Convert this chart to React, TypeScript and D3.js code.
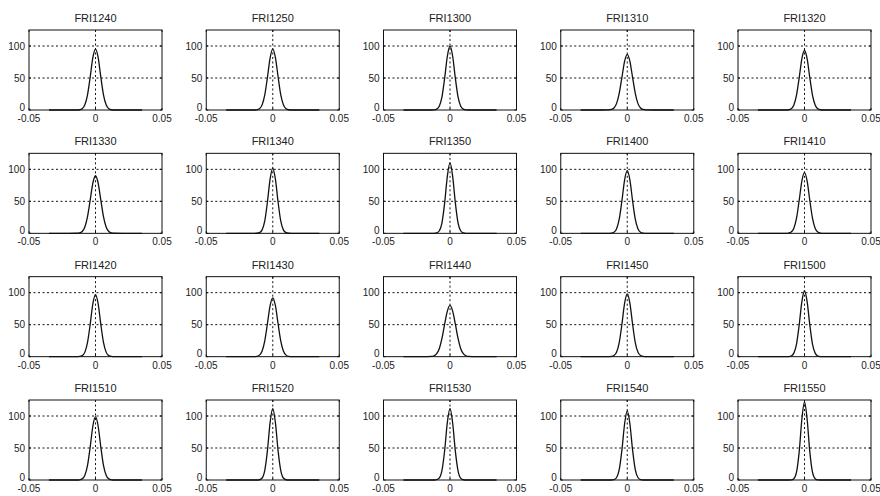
import { line, curveMonotoneX, scaleLinear } from "d3";

const W = 880;
const H = 496;

// x grid shared by every panel
const xs = [-0.035, -0.02, -0.014, -0.012, -0.01, -0.008, -0.006, -0.004, -0.002, 0, 0.002, 0.004, 0.006, 0.008, 0.01, 0.012, 0.014, 0.02, 0.035];

const titles = [
    "FRI1240", "FRI1250", "FRI1300", "FRI1310", "FRI1320",
    "FRI1330", "FRI1340", "FRI1350", "FRI1400", "FRI1410",
    "FRI1420", "FRI1430", "FRI1440", "FRI1450", "FRI1500",
    "FRI1510", "FRI1520", "FRI1530", "FRI1540", "FRI1550",
];

const fri1240 = [0, 0, 0, 0.4, 2.0, 8.1, 23.8, 51.3, 81.7, 95, 81.7, 51.3, 23.8, 8.1, 2.0, 0.4, 0, 0, 0];
const fri1250 = [0, 0, 0, 0.3, 1.9, 8.0, 23.5, 51, 81, 95, 82, 52, 24, 8.3, 2.1, 0.4, 0, 0, 0];
const fri1300 = [0, 0, 0, 0.2, 1.4, 6.4, 21, 50, 84, 100, 84, 50, 21, 6.4, 1.4, 0.2, 0, 0, 0];
const fri1310 = [0, 0, 0.1, 0.8, 3.2, 10.4, 26.5, 51, 76, 87, 76, 51, 26.5, 10.4, 3.2, 0.8, 0.1, 0, 0];
const fri1320 = [0, 0, 0, 0.4, 2.0, 7.9, 23.3, 50.2, 80, 93, 80, 50.2, 23.3, 7.9, 2.0, 0.4, 0, 0, 0];
const fri1330 = [0, 0, 0.1, 0.6, 2.8, 9.8, 26.1, 51.8, 78.3, 90, 78.3, 51.8, 26.1, 9.8, 2.8, 0.6, 0.1, 0, 0];
const fri1340 = [0, 0, 0, 0.1, 1.0, 5.4, 19.4, 49, 84.7, 102, 84.7, 49, 19.4, 5.4, 1.0, 0.1, 0, 0, 0];
const fri1350 = [0, 0, 0, 0, 0.6, 4.0, 16.9, 47.9, 89.1, 110, 89.1, 47.9, 16.9, 4.0, 0.6, 0, 0, 0, 0];
const fri1400 = [0, 0, 0, 0.3, 1.7, 7.2, 22.5, 51, 83.3, 98, 83.3, 51, 22.5, 7.2, 1.7, 0.3, 0, 0, 0];
const fri1410 = [0, 0, 0, 0.4, 2.0, 8.1, 23.8, 51.3, 81.7, 95, 81.7, 51.3, 23.8, 8.1, 2.0, 0.4, 0, 0, 0];
const fri1420 = [0, 0, 0, 0.3, 1.6, 7.1, 22.3, 50.4, 82.5, 97, 82.5, 50.4, 22.3, 7.1, 1.6, 0.3, 0, 0, 0];
const fri1430 = [0, 0, 0.1, 0.5, 2.4, 8.9, 24.8, 51.5, 79.6, 92, 79.6, 51.5, 24.8, 8.9, 2.4, 0.5, 0.1, 0, 0];
const fri1440 = [0, 0, 0.3, 1.4, 4.7, 12.8, 28.8, 51.2, 71.2, 80, 71.2, 51.2, 28.8, 12.8, 4.7, 1.4, 0.3, 0, 0];
const fri1450 = [0, 0, 0, 0.3, 1.7, 7.2, 22.5, 51, 83.3, 98, 83.3, 51, 22.5, 7.2, 1.7, 0.3, 0, 0, 0];
const fri1500 = [0, 0, 0, 0.1, 1.0, 5.5, 19.6, 49.4, 85.5, 103, 85.5, 49.4, 19.6, 5.5, 1.0, 0.1, 0, 0, 0];
const fri1510 = [0, 0, 0, 0.3, 1.7, 7.3, 22.7, 51.5, 84, 99, 84, 51.5, 22.7, 7.3, 1.7, 0.3, 0, 0, 0];
const fri1520 = [0, 0, 0, 0, 0.4, 3.1, 15.1, 45.9, 89.6, 112, 89.6, 45.9, 15.1, 3.1, 0.4, 0, 0, 0, 0];
const fri1530 = [0, 0, 0, 0, 0.5, 3.3, 15.5, 46.5, 90, 112, 89, 45.5, 14.8, 3.0, 0.4, 0, 0, 0, 0];
const fri1540 = [0, 0, 0, 0, 0.6, 3.9, 16.6, 47, 87.5, 108, 87.5, 47, 16.6, 3.9, 0.6, 0, 0, 0, 0];
const fri1550 = [0, 0, 0, 0, 0.2, 2.1, 12.2, 43.9, 94.6, 122, 94.6, 43.9, 12.2, 2.1, 0.2, 0, 0, 0, 0];

const series = [
    fri1240, fri1250, fri1300, fri1310, fri1320,
    fri1330, fri1340, fri1350, fri1400, fri1410,
    fri1420, fri1430, fri1440, fri1450, fri1500,
    fri1510, fri1520, fri1530, fri1540, fri1550,
];

const xTicks = [-0.05, 0, 0.05];
const xTickLabels = ["-0.05", "0", "0.05"];
const yTicks = [0, 50, 100];

const NCOL = 5;
const NROW = 4;
const PW = 133; // panel width
const PH = 80; // panel height
const colLeft = scaleLinear().domain([0, NCOL - 1]).range([29, 738]);
const rowTop = scaleLinear().domain([0, NROW - 1]).range([30, 400]);

const FONT = "'Liberation Sans', Arial, sans-serif";

function Panel({ idx }: { idx: number }) {
    const col = idx % NCOL;
    const row = Math.floor(idx / NCOL);
    const left = colLeft(col);
    const top = rowTop(row);

    const x = scaleLinear().domain([-0.05, 0.05]).range([0, PW]);
    const y = scaleLinear().domain([0, 125]).range([PH, 0]);

    const pts = xs.map((v, i) => [v, series[idx][i]] as [number, number]);
    const path = line<[number, number]>()
        .x((d) => x(d[0]))
        .y((d) => y(d[1]))
        .curve(curveMonotoneX)(pts);

    return (
        <g transform={`translate(${left},${top})`}>
            <text x={PW / 2} y={-8} textAnchor="middle" fontSize={11} fontFamily={FONT} fill="#222">
                {titles[idx]}
            </text>
            {/* dotted grid */}
            {yTicks.filter((t) => t > 0).map((t) => (
                <line key={"gy" + t} x1={0} x2={PW} y1={y(t)} y2={y(t)} stroke="#111" strokeDasharray="2,2.5" strokeWidth={1} />
            ))}
            <line x1={x(0)} x2={x(0)} y1={0} y2={PH} stroke="#111" strokeDasharray="2,2.5" strokeWidth={1} />
            <path d={path || ""} fill="none" stroke="#111" strokeWidth={1.3} />
            <rect x={0} y={0} width={PW} height={PH} fill="none" stroke="#111" strokeWidth={1} />
            {/* ticks */}
            {xTicks.map((t, i) => (
                <g key={"xt" + i}>
                    <line x1={x(t)} x2={x(t)} y1={PH} y2={PH - 2} stroke="#111" />
                    <line x1={x(t)} x2={x(t)} y1={0} y2={2} stroke="#111" />
                    <text x={x(t)} y={PH + 12} textAnchor="middle" fontSize={10} fontFamily={FONT} fill="#222">
                        {xTickLabels[i]}
                    </text>
                </g>
            ))}
            {yTicks.map((t) => (
                <g key={"yt" + t}>
                    <line x1={0} x2={2} y1={y(t)} y2={y(t)} stroke="#111" />
                    <line x1={PW} x2={PW - 2} y1={y(t)} y2={y(t)} stroke="#111" />
                    <text x={-4} y={t === 0 ? y(t) + 0.5 : y(t) + 3.5} textAnchor="end" fontSize={10} fontFamily={FONT} fill="#222">
                        {t}
                    </text>
                </g>
            ))}
        </g>
    );
}

function App() {
    return (
        <svg
            width={W}
            height={H}
            style={{ position: "absolute", left: 0, top: 0, background: "#fff" }}
        >
            <rect x={0} y={0} width={W} height={H} fill="#fff" />
            {titles.map((_, i) => (
                <Panel key={i} idx={i} />
            ))}
        </svg>
    );
}

export default App;
